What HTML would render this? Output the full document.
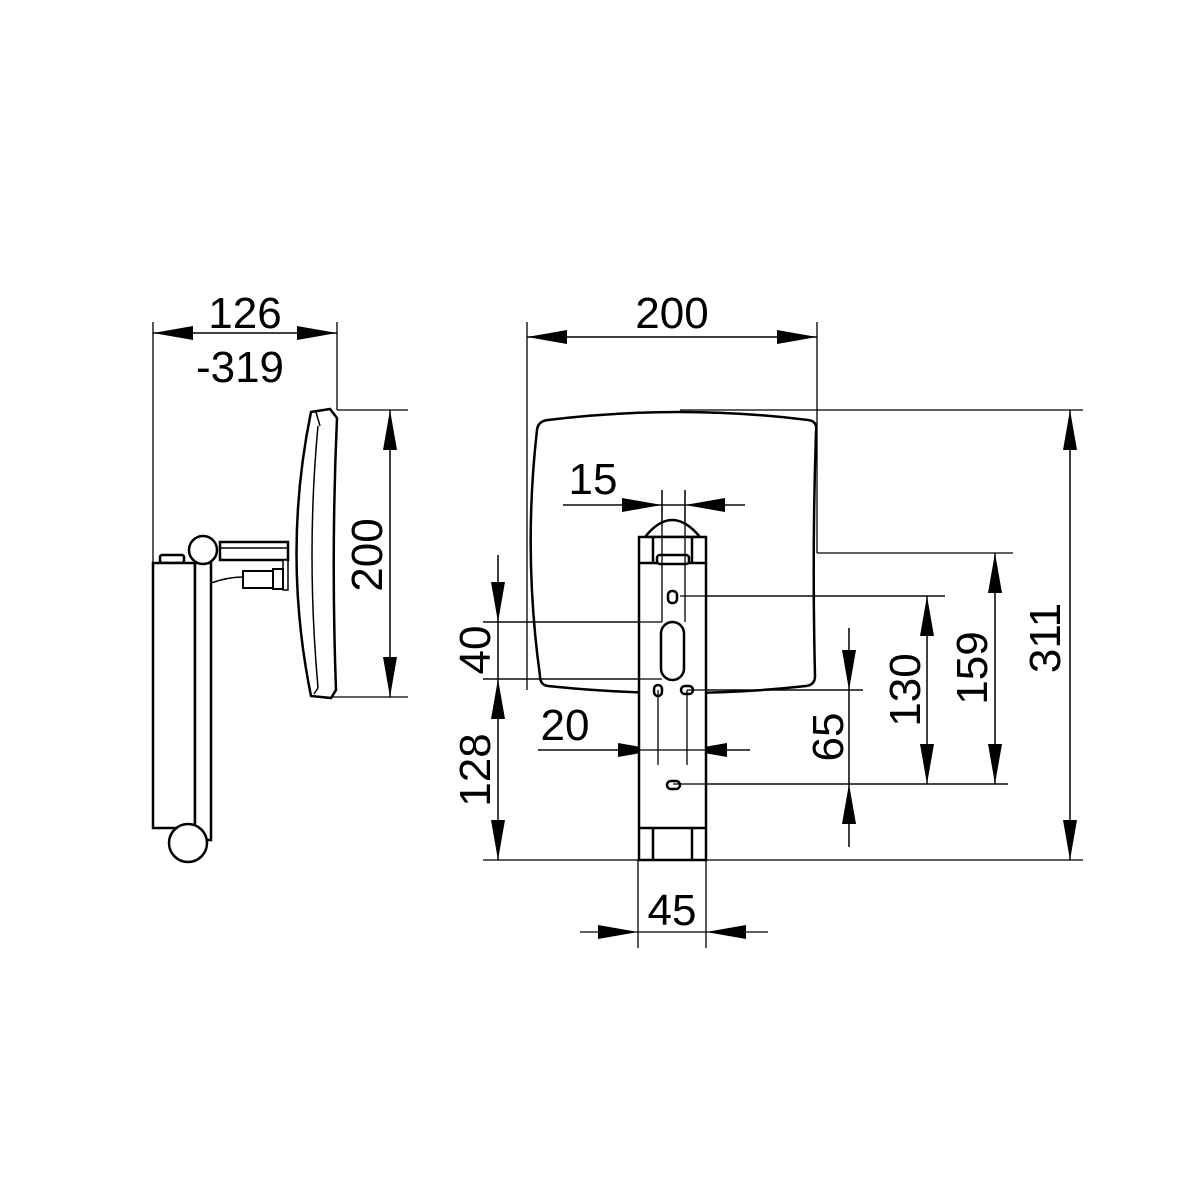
<!DOCTYPE html>
<html><head><style>
html,body{margin:0;padding:0;background:#fff;}
svg{display:block}
text{font-family:"Liberation Sans",sans-serif;font-size:44px;fill:#000;}
</style></head><body>
<svg width="1200" height="1200" viewBox="0 0 1200 1200" xmlns="http://www.w3.org/2000/svg">
<defs>
<marker id="a" viewBox="0 0 40 14" refX="40" refY="7" markerWidth="40" markerHeight="14" markerUnits="userSpaceOnUse" orient="auto"><path d="M0,0 L40,7 L0,14 Z" fill="#000"/></marker>
</defs>
<g stroke="#000" stroke-width="1.3" fill="none">
<!-- side view ext lines -->
<line x1="153" y1="322" x2="153" y2="563"/>
<line x1="337" y1="322" x2="337" y2="410"/>
<line x1="153" y1="333" x2="337" y2="333" stroke-width="1.5"/>
<line x1="337" y1="410" x2="408" y2="410"/>
<line x1="330" y1="697" x2="408" y2="697"/>
<line x1="390" y1="410" x2="390" y2="697" stroke-width="1.5"/>
<!-- front ext lines -->
<line x1="527" y1="322" x2="527" y2="690"/>
<line x1="817" y1="322" x2="817" y2="553"/>
<line x1="527" y1="337" x2="817" y2="337" stroke-width="1.5"/>
<line x1="680" y1="410" x2="1083" y2="410"/>
<line x1="817" y1="553" x2="1013" y2="553"/>
<line x1="680" y1="596" x2="945" y2="596"/>
<line x1="687" y1="690" x2="863" y2="690"/>
<line x1="673" y1="784" x2="1008" y2="784"/>
<line x1="483" y1="860" x2="1083" y2="860"/>
<line x1="483" y1="622" x2="662" y2="622"/>
<line x1="483" y1="679" x2="662" y2="679"/>
<line x1="1070" y1="410" x2="1070" y2="860" stroke-width="1.5"/>
<line x1="995" y1="553" x2="995" y2="784" stroke-width="1.5"/>
<line x1="927" y1="596" x2="927" y2="784" stroke-width="1.5"/>
<line x1="849" y1="628" x2="849" y2="847" stroke-width="1.5"/>
<line x1="498" y1="555" x2="498" y2="860" stroke-width="1.5"/>
<!-- 15 -->
<line x1="662" y1="490" x2="662" y2="622"/>
<line x1="685" y1="490" x2="685" y2="622"/>
<line x1="563" y1="505" x2="745" y2="505"/>
<!-- 20 -->
<line x1="658" y1="690" x2="658" y2="765"/>
<line x1="687" y1="690" x2="687" y2="765"/>
<line x1="538" y1="750" x2="750" y2="750"/>
<!-- 45 -->
<line x1="638" y1="860" x2="638" y2="948"/>
<line x1="706" y1="860" x2="706" y2="948"/>
<line x1="580" y1="932" x2="768" y2="932"/>
</g>
<!-- arrows -->
<g stroke="none" fill="#000">
<line x1="200" y1="333" x2="153" y2="333" stroke="#000" marker-end="url(#a)"/>
<line x1="290" y1="333" x2="337" y2="333" stroke="#000" marker-end="url(#a)"/>
<line x1="390" y1="460" x2="390" y2="410" stroke="#000" marker-end="url(#a)"/>
<line x1="390" y1="650" x2="390" y2="697" stroke="#000" marker-end="url(#a)"/>
<line x1="580" y1="337" x2="527" y2="337" stroke="#000" marker-end="url(#a)"/>
<line x1="760" y1="337" x2="817" y2="337" stroke="#000" marker-end="url(#a)"/>
<line x1="1070" y1="460" x2="1070" y2="410" stroke="#000" marker-end="url(#a)"/>
<line x1="1070" y1="810" x2="1070" y2="860" stroke="#000" marker-end="url(#a)"/>
<line x1="995" y1="600" x2="995" y2="553" stroke="#000" marker-end="url(#a)"/>
<line x1="995" y1="740" x2="995" y2="784" stroke="#000" marker-end="url(#a)"/>
<line x1="927" y1="640" x2="927" y2="596" stroke="#000" marker-end="url(#a)"/>
<line x1="927" y1="740" x2="927" y2="784" stroke="#000" marker-end="url(#a)"/>
<line x1="849" y1="640" x2="849" y2="690" stroke="#000" marker-end="url(#a)"/>
<line x1="849" y1="830" x2="849" y2="784" stroke="#000" marker-end="url(#a)"/>
<line x1="498" y1="570" x2="498" y2="622" stroke="#000" marker-end="url(#a)"/>
<line x1="498" y1="720" x2="498" y2="679" stroke="#000" marker-end="url(#a)"/>
<line x1="498" y1="815" x2="498" y2="860" stroke="#000" marker-end="url(#a)"/>
<line x1="615" y1="505" x2="662" y2="505" stroke="#000" marker-end="url(#a)"/>
<line x1="730" y1="505" x2="685" y2="505" stroke="#000" marker-end="url(#a)"/>
<line x1="612" y1="750" x2="658" y2="750" stroke="#000" marker-end="url(#a)"/>
<line x1="733" y1="750" x2="687" y2="750" stroke="#000" marker-end="url(#a)"/>
<line x1="596" y1="932" x2="638" y2="932" stroke="#000" marker-end="url(#a)"/>
<line x1="748" y1="932" x2="706" y2="932" stroke="#000" marker-end="url(#a)"/>
</g>
<!-- side view object -->
<g stroke="#000" stroke-width="2.5" fill="#fff">
<path d="M311,412 L330,409 L337,418 Q331,553 336,690 L331,698 L311,696 Q282,553 311,412 Z"/>
<path d="M318,426 Q306,553 318,688" fill="none" stroke-width="1.5"/>
<line x1="316" y1="412" x2="320" y2="426" stroke-width="1.5"/>
<line x1="314" y1="694" x2="318" y2="688" stroke-width="1.5"/>
<rect x="220" y="542" width="68" height="18"/>
<line x1="220" y1="548" x2="288" y2="548" stroke-width="1.5"/>
<rect x="283" y="560" width="5" height="30" stroke-width="1.5"/>
<path d="M211,583 Q228,577 243,577" fill="none" stroke-width="1.5"/>
<rect x="243" y="571" width="30" height="17" stroke-width="2"/>
<rect x="273" y="569" width="10" height="20" stroke-width="2"/>
<rect x="160" y="555" width="24" height="8" rx="2"/>
<rect x="153" y="563" width="42" height="265"/>
<rect x="195" y="563" width="16" height="277"/>
<circle cx="203" cy="550" r="14"/>
<circle cx="188" cy="843" r="19"/>
</g>
<!-- front view mirror -->
<path d="M548,420 Q680,404 808,420 Q818,421 816,432 Q812,553 815,676 Q815,685 806,686 Q680,700 548,686 Q540,685 540,676 Q523,553 537,430 Q538,421 548,420 Z" fill="none" stroke="#000" stroke-width="2.5"/>
<!-- bracket -->
<g stroke="#000" stroke-width="2.5" fill="#fff">
<path d="M645,537 Q672,503 700,537 Z"/>
<rect x="639" y="537" width="67" height="323"/>
<line x1="639" y1="563" x2="706" y2="563"/>
<line x1="653" y1="537" x2="653" y2="563"/>
<line x1="692" y1="537" x2="692" y2="563"/>
<rect x="657" y="555" width="32" height="9" rx="3"/>
<line x1="639" y1="828" x2="706" y2="828"/>
<line x1="653" y1="828" x2="653" y2="860"/>
<line x1="692" y1="828" x2="692" y2="860"/>
<rect x="668" y="591" width="9" height="12" rx="4"/>
<rect x="661" y="622" width="23" height="58" rx="11.5"/>
<rect x="654" y="685" width="8" height="11" rx="4"/>
<rect x="681" y="686" width="12" height="8" rx="4"/>
<rect x="667" y="781" width="13" height="8" rx="4"/>
</g>
<g stroke="#000" stroke-width="1.3">
<line x1="662" y1="490" x2="662" y2="622"/>
<line x1="685" y1="490" x2="685" y2="622"/>
<line x1="658" y1="690" x2="658" y2="765"/>
<line x1="687" y1="690" x2="687" y2="765"/>
<line x1="680" y1="596" x2="945" y2="596"/>
<line x1="687" y1="690" x2="863" y2="690"/>
<line x1="673" y1="784" x2="1008" y2="784"/>
<line x1="483" y1="622" x2="662" y2="622"/>
<line x1="483" y1="679" x2="662" y2="679"/>
<line x1="563" y1="505" x2="745" y2="505"/>
<line x1="538" y1="750" x2="750" y2="750"/>
</g>
<!-- texts -->
<text x="245" y="328" text-anchor="middle">126</text>
<text x="240" y="382" text-anchor="middle">-319</text>
<text x="672" y="328" text-anchor="middle">200</text>
<text x="593" y="494" text-anchor="middle">15</text>
<text x="565" y="740" text-anchor="middle">20</text>
<text x="672" y="925" text-anchor="middle">45</text>
<text transform="translate(382,555) rotate(-90)" text-anchor="middle">200</text>
<text transform="translate(490,650) rotate(-90)" text-anchor="middle">40</text>
<text transform="translate(490,770) rotate(-90)" text-anchor="middle">128</text>
<text transform="translate(843,737) rotate(-90)" text-anchor="middle">65</text>
<text transform="translate(920,690) rotate(-90)" text-anchor="middle">130</text>
<text transform="translate(987,668) rotate(-90)" text-anchor="middle">159</text>
<text transform="translate(1060,638) rotate(-90)" text-anchor="middle">311</text>
</svg>
</body></html>
